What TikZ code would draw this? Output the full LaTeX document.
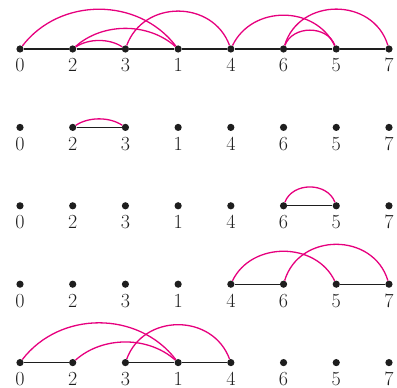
\documentclass[tikz,border=0pt]{standalone}
\usepackage{tikz}
\definecolor{arcpink}{RGB}{230,0,126}
\definecolor{ink}{RGB}{30,30,30}
\tikzset{
  dot/.style={circle,fill=ink,inner sep=0pt,minimum size=7.2pt},
  lbl/.style={anchor=base,inner sep=0pt,font=\fontsize{20}{22}\selectfont,text=ink},
  seg/.style={draw=ink,line width=1.3pt},
  pinkarc/.style={draw=arcpink,line width=1.3pt}
}
\newcommand\harc[4]{\draw[pinkarc] (#1) .. controls +(#3:#4) and +(180-#3:#4) .. (#2);}
\begin{document}
\begin{tikzpicture}[x=1pt,y=1pt]
\useasboundingbox (0,0) rectangle (397,388);
\foreach \r/\y in {1/339,2/260.6,3/182.2,4/103.8,5/25.4}{
  \foreach \lab [count=\i from 0] in {0,2,3,1,4,6,5,7}{
    \node[dot] (r\r n\lab) at ({20+52.71*\i},\y) {};
    \node[lbl] (l\r n\lab) at ({20+52.71*\i},\y-23) {\lab};
  }
}
% row 1
\draw[seg] (r1n0) -- (r1n2) -- (r1n3) -- (r1n1) -- (r1n4) -- (r1n6) -- (r1n5) -- (r1n7);
\harc{r1n0}{r1n1}{52.5}{65.6}
\harc{r1n2}{r1n1}{41.7}{40.1}
\harc{r1n2}{r1n3}{33.8}{19.2}
\harc{r1n3}{r1n4}{69.8}{52.6}
\harc{r1n4}{r1n5}{64.3}{48.8}
\harc{r1n6}{r1n5}{69.4}{25.6}
\harc{r1n6}{r1n7}{73.2}{54.3}
% row 2
\draw[seg] (r2n2) -- (r2n3);
\harc{r2n2}{r2n3}{33.8}{19.2}
% row 3
\draw[seg] (r3n6) -- (r3n5);
\harc{r3n6}{r3n5}{69.4}{25.6}
% row 4
\draw[seg] (r4n4) -- (r4n6);
\draw[seg] (r4n5) -- (r4n7);
\harc{r4n4}{r4n5}{64.3}{47.5}
\harc{r4n6}{r4n7}{73.2}{54.3}
% row 5
\draw[seg] (r5n0) -- (r5n2);
\draw[seg] (r5n3) -- (r5n1) -- (r5n4);
\harc{r5n0}{r5n1}{52.5}{65.6}
\harc{r5n2}{r5n1}{41.7}{40.1}
\harc{r5n3}{r5n4}{69.8}{52.6}
\end{tikzpicture}
\end{document}
